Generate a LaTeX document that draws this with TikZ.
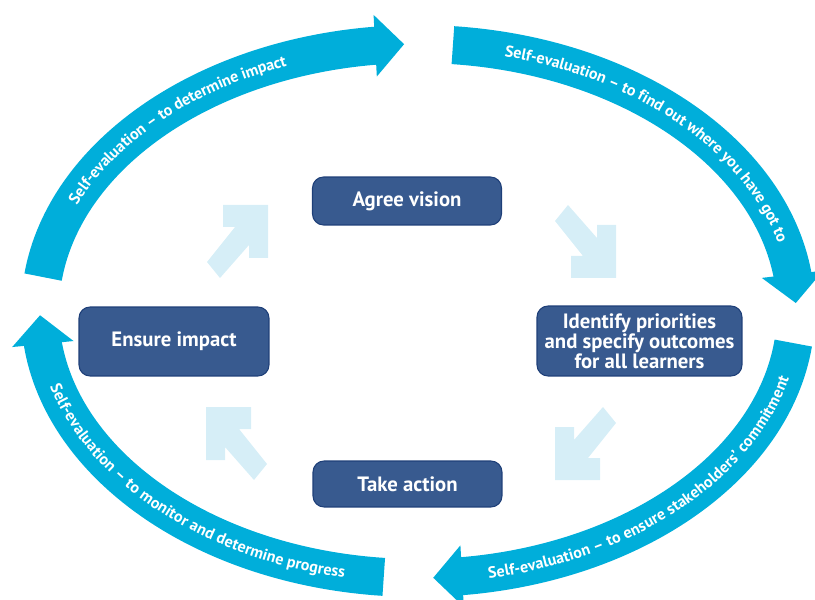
\documentclass[tikz,border=0pt]{standalone}
\usepackage{fontspec}
\setmainfont{PT Sans}
\usepackage{xcolor}
\definecolor{cycleBlue}{HTML}{00AEDA}
\definecolor{stageFill}{HTML}{385A8F}
\definecolor{stageDark}{HTML}{1E3F78}
\definecolor{hintBlue}{HTML}{D6EEF7}
\usetikzlibrary{arrows.meta,bending,calc,decorations.text}
\newcommand{\arcFont}{\fontsize{9.1}{10}\selectfont\bfseries}
\tikzset{%
  stageBox/.style={%
    rectangle,
    rounded corners=0.22cm,
    draw=stageDark,
    line width=0.6pt,
    fill=stageFill,
    text=white,
    font=\fontsize{11.8}{11.4}\selectfont\bfseries,
    align=center,
    inner sep=0pt
  },
  cycleArc/.style={%
    draw=cycleBlue,
    line width=0.76cm,
    -{Triangle[length=0.58cm,width=1.2cm]}
  },
  arcText/.style={%
    decorate,
    decoration={text along path, text align=center, raise=-0.1cm,
      text color=white, text={|\arcFont|#1}}
  },
  pics/hintArrow/.style={code={%
    \fill[hintBlue] (-45,0) -- (0,0) -- (0,-53) -- (-19,-53) -- (-19,-40)
      -- (-48,-73) -- (-61,-57) -- (-33,-22) -- (-45,-22) -- cycle;
  }}
}

\begin{document}
\begin{tikzpicture}[x=0.02cm,y=0.02cm]
  \useasboundingbox (0,0) rectangle (815,599);
  \coordinate (hub) at (418,288);

  % the four self-evaluation arcs
  \draw[cycleArc] ($(hub)+(172.7:378 and 267)$) arc[start angle=172.7, end angle=92.1, x radius=378, y radius=267];
  \draw[cycleArc] ($(hub)+(84.7:378 and 267)$) arc[start angle=84.7, end angle=1.7, x radius=378, y radius=267];
  \draw[cycleArc] ($(hub)+(-6.9:378 and 267)$) arc[start angle=-6.9, end angle=-87.7, x radius=378, y radius=267];
  \draw[cycleArc] ($(hub)+(264.8:378 and 267)$) arc[start angle=264.8, end angle=180.9, x radius=378, y radius=267];

  \path[arcText={Self-evaluation – to determine impact}]
    ($(hub)+(170:378 and 267)$) arc[start angle=170, end angle=100, x radius=378, y radius=267];
  \path[arcText={Self-evaluation – to find out where you have got to}]
    ($(hub)+(84:378 and 267)$) arc[start angle=84, end angle=5, x radius=378, y radius=267];
  \path[arcText={Self-evaluation – to ensure stakeholders’ commitment}]
    ($(hub)+(-86:378 and 267)$) arc[start angle=-86, end angle=-5, x radius=378, y radius=267];
  \path[arcText={Self-evaluation – to monitor and determine progress}]
    ($(hub)+(186:378 and 267)$) arc[start angle=186, end angle=266, x radius=378, y radius=267];

  % inner pale arrows
  \pic at (268,394) {hintArrow};
  \pic[yscale=-1] at (616,321) {hintArrow};
  \pic[rotate=180] at (555,119) {hintArrow};
  \pic[xscale=-1] at (206,192) {hintArrow};

  % stages
  \node[stageBox, minimum width=3.78cm, minimum height=0.96cm] (vision) at (407,398) {Agree vision};
  \node[stageBox, minimum width=4.1cm, minimum height=1.4cm] (priorities) at (639.5,258) {Identify priorities\\and specify outcomes\\for all learners};
  \node[stageBox, minimum width=3.8cm, minimum height=1.38cm] (impact) at (174,257.5) {Ensure impact};
  \node[stageBox, minimum width=3.78cm, minimum height=0.92cm] (action) at (407.5,115) {Take action};
\end{tikzpicture}
\end{document}
